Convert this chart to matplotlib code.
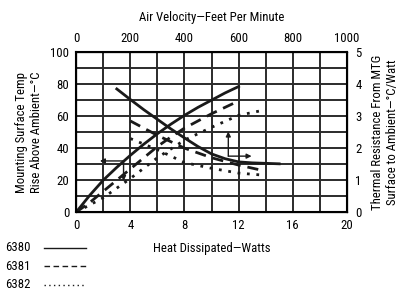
import matplotlib.pyplot as plt
from matplotlib.lines import Line2D
from matplotlib import font_manager

# prefer a narrow face if one is installed
names = {f.name for f in font_manager.fontManager.ttflist}
narrow = [n for n in ['Liberation Sans Narrow', 'Roboto Condensed', 'DejaVu Sans Condensed',
                      'Open Sans Condensed', 'Noto Sans Condensed'] if n in names]
plt.rcParams['font.family'] = narrow[:1] + ['DejaVu Sans']
plt.rcParams['font.stretch'] = 'condensed'
FS = 9.2 if narrow else 8.5

# temperature rise vs heat dissipated (bottom / left axes)
watts = [0, 1, 2, 3, 4, 5, 6, 7, 8, 9, 10, 11, 12]
rise_6380 = [0, 10.5, 20, 28, 35.5, 42.5, 49, 55, 60.5, 65.5, 70, 74.5, 78.5]
rise_6381 = [0, 6, 13, 20, 27, 34, 41, 47, 52.5, 57, 61.5, 65.5, 69.5]
watts_6382 = [0, 2, 4, 6, 8, 10, 12, 14]
rise_6382 = [0, 9, 21, 34, 45, 53, 60.5, 64]

# thermal resistance vs air velocity (top / right axes)
vel_6380 = [150, 200, 250, 300, 350, 400, 450, 500, 550, 600, 650, 750]
res_6380 = [3.85, 3.52, 3.2, 2.9, 2.6, 2.32, 2.05, 1.82, 1.67, 1.57, 1.54, 1.51]
vel_6381 = [200, 300, 400, 500, 600, 690]
res_6381 = [2.85, 2.4, 2.0, 1.7, 1.47, 1.3]
vel_6382 = [200, 300, 400, 500, 600, 700]
res_6382 = [2.3, 1.95, 1.55, 1.37, 1.22, 1.15]

models = ['6380', '6381', '6382']
styles = ['-', (0, (4, 2.5)), (0, (1, 2.4))]
ink = '#1a1a1a'

fig = plt.figure(figsize=(4.01, 2.93), dpi=100)
ax = fig.add_axes([0.19, 0.276, 0.675, 0.546])
ax.set_xlim(0, 20)
ax.set_ylim(0, 100)
ax.set_xticks(range(0, 21, 4))
ax.set_xticks(range(0, 21, 2), minor=True)
ax.set_yticks(range(0, 101, 20))
ax.set_yticks(range(0, 101, 10), minor=True)
ax.grid(True, which='both', color='#2b2b2b', lw=1.4)
ax.tick_params(which='both', length=0, pad=5, labelsize=FS)
for s in ax.spines.values():
    s.set_linewidth(1.5)

ax.plot(watts, rise_6380, color=ink, lw=2, ls=styles[0])
ax.plot(watts, rise_6381, color=ink, lw=2, ls=styles[1])
ax.plot(watts_6382, rise_6382, color=ink, lw=2, ls=styles[2])

ax.set_xlabel('Heat Dissipated\u2014Watts', fontsize=FS, labelpad=7)
ax.set_ylabel('Mounting Surface Temp\nRise Above Ambient\u2014\u00b0C', fontsize=FS, labelpad=5)

# arrows for the left/bottom group
arr = dict(arrowstyle='-|>', color=ink, lw=1, mutation_scale=7, shrinkA=0, shrinkB=0)
ax.annotate('', xy=(1.75, 32), xytext=(3.5, 32), arrowprops=arr)
ax.annotate('', xy=(3.5, 19.5), xytext=(3.5, 32), arrowprops=arr)

axr = ax.twinx()
axr.set_ylim(0, 5)
axr.set_yticks(range(0, 6))
axr.tick_params(length=0, pad=6, labelsize=FS)
axr.set_ylabel('Thermal Resistance From MTG\nSurface to Ambient\u2014\u00b0C/Watt', fontsize=FS, labelpad=7)

ax2 = axr.twiny()
ax2.set_xlim(0, 1000)
ax2.set_xticks(range(0, 1001, 200))
ax2.tick_params(length=0, pad=5, labelsize=FS)
ax2.set_xlabel('Air Velocity\u2014Feet Per Minute', fontsize=FS, labelpad=8)
ax2.plot(vel_6380, res_6380, color=ink, lw=2, ls=styles[0])
ax2.plot(vel_6381, res_6381, color=ink, lw=2, ls=styles[1])
ax2.plot(vel_6382, res_6382, color=ink, lw=2, ls=styles[2])
ax2.annotate('', xy=(562, 2.52), xytext=(562, 1.75), arrowprops=arr)
ax2.annotate('', xy=(648, 1.75), xytext=(562, 1.75), arrowprops=arr)

# legend drawn by hand
for i, (m, st) in enumerate(zip(models, styles)):
    y = 0.155 - i * 0.063
    fig.text(0.012, y, m, fontsize=FS, va='center')
    fig.add_artist(Line2D([0.11, 0.215], [y, y], transform=fig.transFigure,
                          color=ink, lw=1, ls=st))

fig.savefig('out.png', dpi=100)
